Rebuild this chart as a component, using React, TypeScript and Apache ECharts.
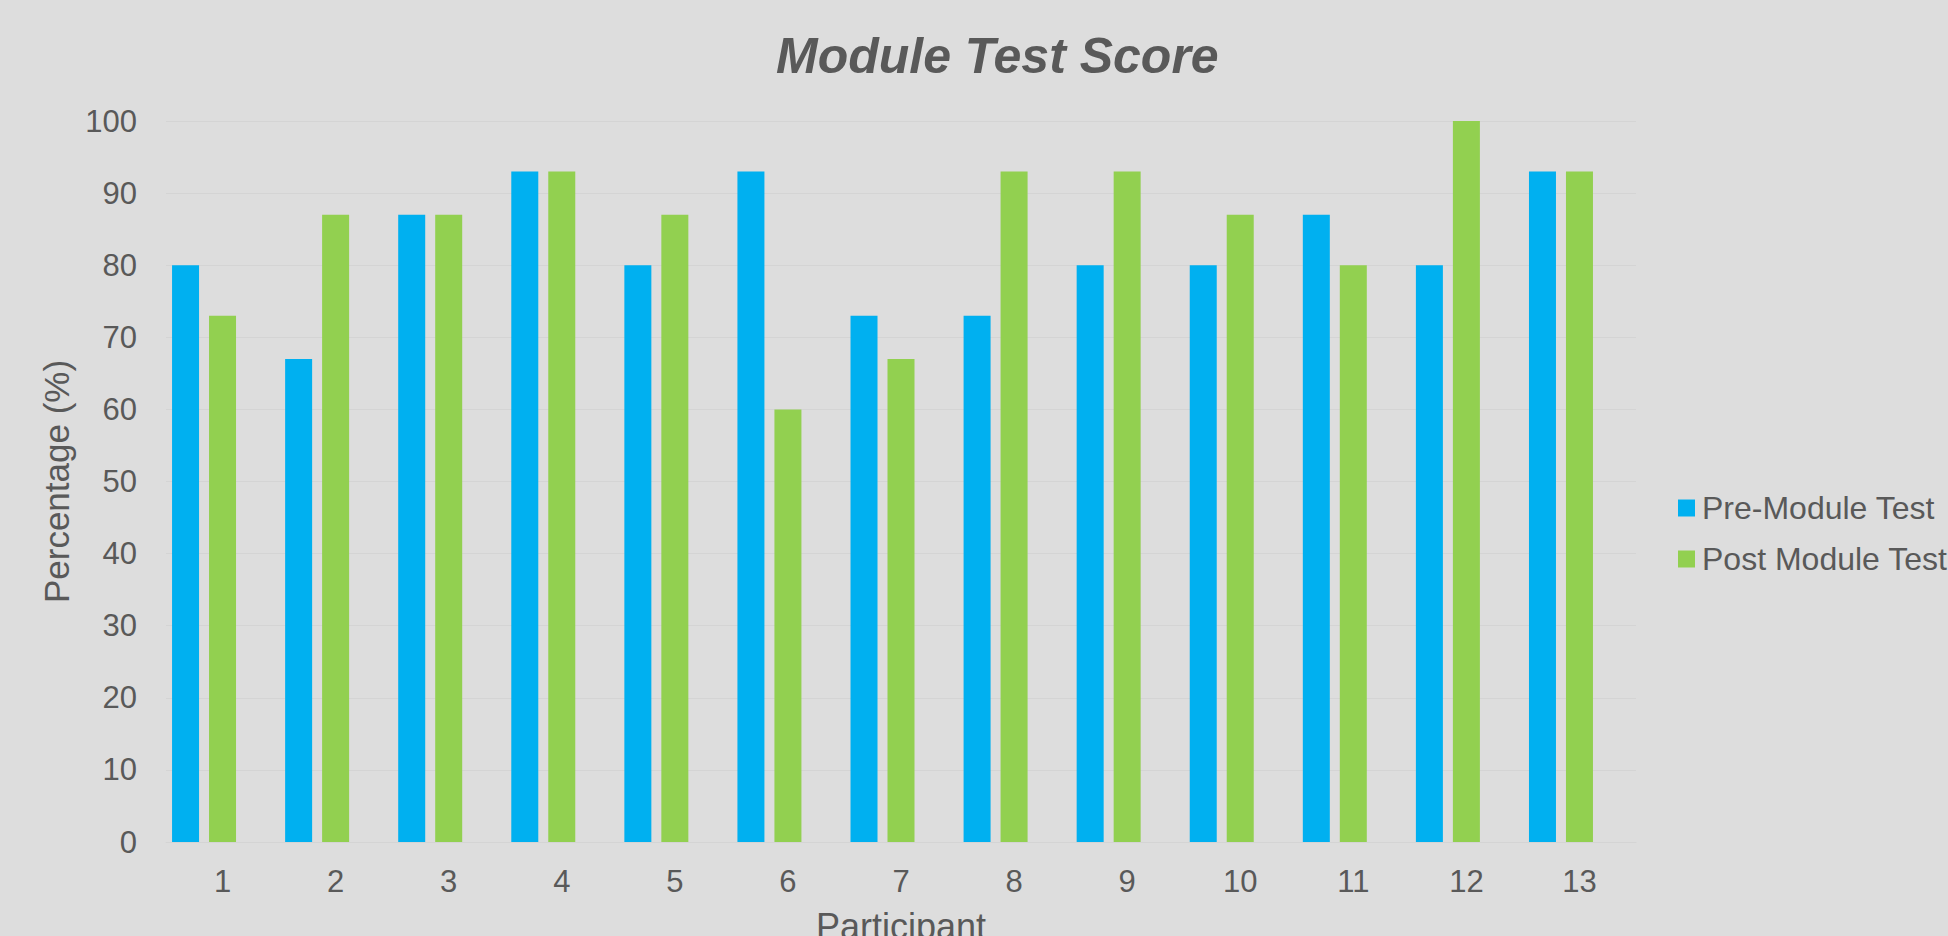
import React, { useEffect, useRef } from "react";
import * as echarts from "echarts";

const categories = ["1", "2", "3", "4", "5", "6", "7", "8", "9", "10", "11", "12", "13"];
const preModule = [80, 67, 87, 93, 80, 93, 73, 73, 80, 80, 87, 80, 93];
const postModule = [73, 87, 87, 93, 87, 60, 67, 93, 93, 87, 80, 100, 93];
// Empty third slot: the source chart leaves room for a third (empty) bar in each category
const emptySlot = [null, null, null, null, null, null, null, null, null, null, null, null, null];
const seriesNames = ["Pre-Module Test", "Post Module Test"];

const FONT = "'Liberation Sans', Arial, Helvetica, sans-serif";
const TEXT = "#595959";

export default function App() {
  const ref = useRef<HTMLDivElement>(null);
  useEffect(() => {
    if (!ref.current) return;
    const chart = echarts.init(ref.current, null, { renderer: "svg" });
    chart.setOption({
      animation: false,
      backgroundColor: "#DDDDDD",
      textStyle: { fontFamily: FONT },
      title: {
        text: "Module Test Score",
        left: 776,
        top: 31,
        padding: 0,
        textStyle: { fontFamily: FONT, fontSize: 50, fontWeight: "bold", fontStyle: "italic", color: TEXT },
      },
      legend: {
        orient: "vertical",
        left: 1678,
        top: 491,
        padding: 0,
        itemWidth: 17,
        itemHeight: 17,
        itemGap: 17,
        icon: "rect",
        textStyle: { fontFamily: FONT, fontSize: 32, color: TEXT, padding: [0, 0, 0, 2], lineHeight: 34 },
        data: seriesNames,
      },
      grid: {
        left: 166,
        width: 1470,
        top: 121,
        height: 721,
        containLabel: false,
        outerBoundsMode: "none",
      },
      xAxis: {
        type: "category",
        data: categories,
        name: "Participant",
        nameLocation: "middle",
        nameGap: 66,
        nameTextStyle: { fontFamily: FONT, fontSize: 36, color: TEXT, verticalAlign: "top" },
        axisLine: { lineStyle: { color: "#D4D4D4", width: 1 } },
        axisTick: { show: false },
        axisLabel: { fontFamily: FONT, fontSize: 31, color: TEXT, margin: 24 },
      },
      yAxis: {
        type: "value",
        min: 0,
        max: 100,
        interval: 10,
        name: "Percentage (%)",
        nameLocation: "middle",
        nameGap: 92,
        nameTextStyle: { fontFamily: FONT, fontSize: 35, color: TEXT },
        axisLine: { show: false },
        axisTick: { show: false },
        axisLabel: { fontFamily: FONT, fontSize: 31, color: TEXT, margin: 29 },
        splitLine: { lineStyle: { color: "#D4D4D4", width: 1 } },
      },
      series: [
        {
          name: seriesNames[0],
          type: "bar",
          data: preModule,
          barWidth: 27,
          barGap: "37%",
          itemStyle: { color: "#00B0F0" },
        },
        {
          name: seriesNames[1],
          type: "bar",
          data: postModule,
          barWidth: 27,
          barGap: "37%",
          itemStyle: { color: "#92D050" },
        },
        {
          name: "empty",
          type: "bar",
          data: emptySlot,
          barWidth: 27,
          barGap: "37%",
          silent: true,
          itemStyle: { color: "transparent" },
        },
      ],
    });
    return () => chart.dispose();
  }, []);
  return <div ref={ref} style={{ position: "fixed", left: 0, top: 0, width: 1948, height: 936 }} />;
}
